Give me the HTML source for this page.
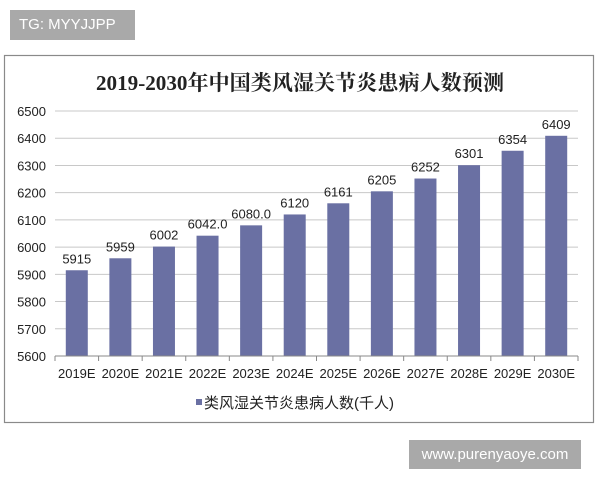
<!DOCTYPE html>
<html><head><meta charset="utf-8"><style>
body{margin:0;width:600px;height:480px;background:#fff;position:relative;overflow:hidden;font-family:"Liberation Sans","Noto Sans CJK SC",sans-serif}
</style></head><body>
<div style="position:absolute;left:10px;top:10px;width:125px;height:30px;background:#a9a9a9;color:#fff;font-size:15px;line-height:30px;text-indent:9px">TG: MYYJJPP</div>
<div style="position:absolute;left:409px;top:440px;width:172px;height:29px;background:#a9a9a9;color:#fff;font-size:15px;line-height:29px;text-align:center">www.purenyaoye.com</div>
<svg width="600" height="480" style="position:absolute;left:0;top:0">
<rect x="4.5" y="55.5" width="589" height="367" fill="none" stroke="#8a8a8a" stroke-width="1.2"/>
<text x="300" y="90" text-anchor="middle" textLength="408" lengthAdjust="spacingAndGlyphs" font-family="Liberation Serif,'Noto Serif CJK SC',serif" font-weight="bold" font-size="21" fill="#222">2019-2030年中国类风湿关节炎患病人数预测</text>
<g id="g"></g>
</svg>
<script>
var g=document.getElementById('g'),s='';
var x0=55,x1=578,yb=356,k=0.2722;
for(var v=5600;v<=6500;v+=100){var y=yb-(v-5600)*k;
 if(v>5600)s+='<line x1="'+x0+'" x2="'+x1+'" y1="'+y+'" y2="'+y+'" stroke="#c8c8c8"/>';
 s+='<text x="46" y="'+(y+5)+'" text-anchor="end" font-size="13" fill="#222">'+v+'</text>';}
var d=[5915,5959,6002,6042,6080,6120,6161,6205,6252,6301,6354,6409],lb=['5915','5959','6002','6042.0','6080.0','6120','6161','6205','6252','6301','6354','6409'];
var w=(x1-x0)/12;
for(var i=0;i<12;i++){var cx=x0+w*(i+0.5),t=yb-(d[i]-5600)*k;
 s+='<rect x="'+(cx-11)+'" y="'+t+'" width="22" height="'+(yb-t)+'" fill="#6a70a3"/>';
 s+='<text x="'+cx+'" y="'+(t-7)+'" text-anchor="middle" font-size="13" fill="#222">'+lb[i]+'</text>';
 s+='<text x="'+cx+'" y="378" text-anchor="middle" font-size="13" fill="#222">'+(2019+i)+'E</text>';
 s+='<line x1="'+(x0+w*i)+'" x2="'+(x0+w*i)+'" y1="'+yb+'" y2="'+(yb+5)+'" stroke="#888"/>';}
s+='<line x1="'+x1+'" x2="'+x1+'" y1="'+yb+'" y2="'+(yb+5)+'" stroke="#888"/>';
s+='<line x1="'+x0+'" x2="'+x1+'" y1="'+yb+'" y2="'+yb+'" stroke="#888"/>';
s+='<rect x="196" y="399" width="6" height="6" fill="#6a70a3"/>';
s+='<text x="204" y="408" font-size="15" fill="#222">类风湿关节炎患病人数(千人)</text>';
g.innerHTML=s;
</script>
</body></html>
